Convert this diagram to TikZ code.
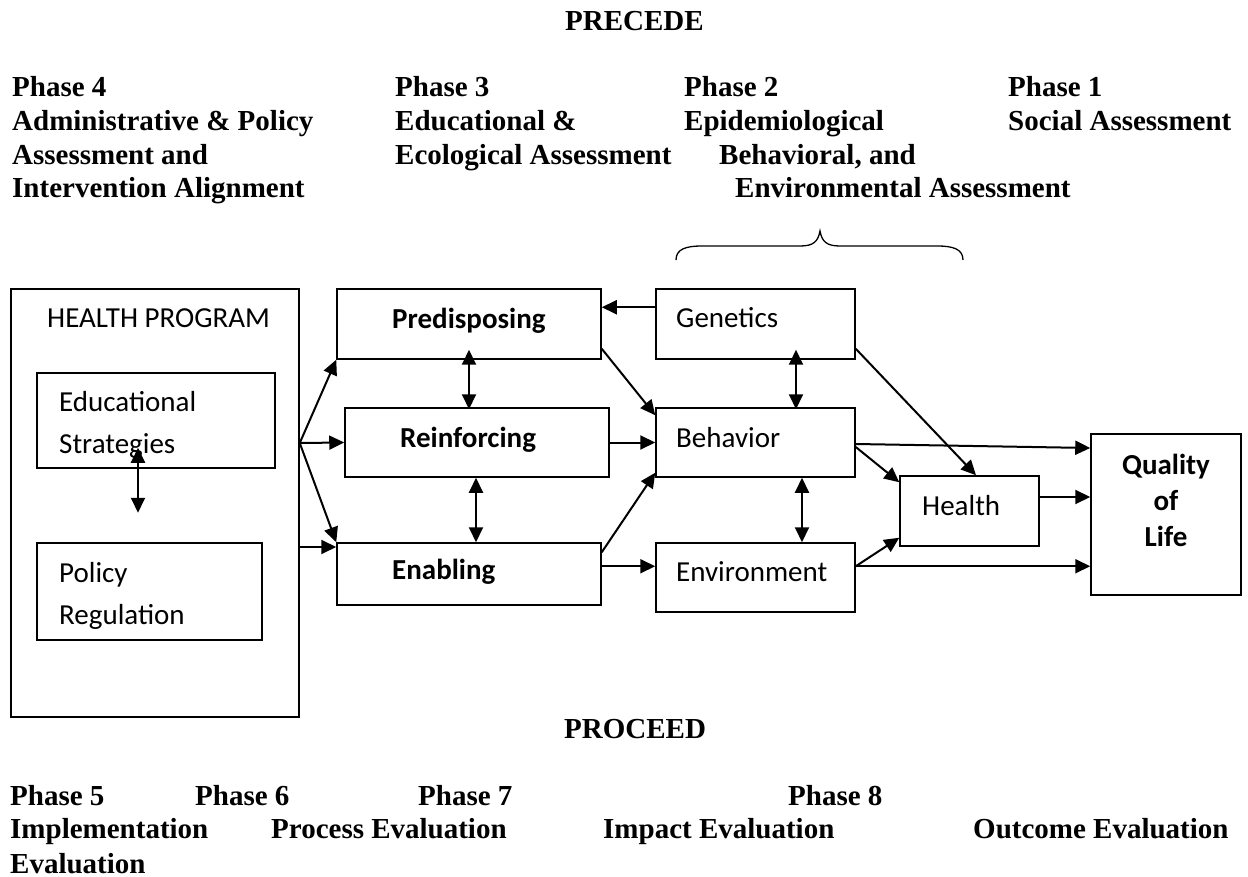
\documentclass[tikz,border=0pt]{standalone}
\usepackage{fontspec}
\setmainfont{Liberation Serif}
\newfontfamily\calibri{Carlito}
\usetikzlibrary{arrows.meta,calc}
\tikzset{
  tnr/.style={font=\fontsize{29}{34}\selectfont\bfseries, inner sep=0pt, anchor=base west},
  cal/.style={font=\calibri\fontsize{29}{42}\selectfont, inner sep=0pt, anchor=base west, align=left},
  calb/.style={font=\calibri\bfseries\fontsize{29}{36}\selectfont, inner sep=0pt, anchor=base west},
  box/.style={draw, line width=1.5pt, inner sep=0pt},
  arr/.style={line width=2pt, -{Triangle[length=15pt,width=14pt]}},
  dbl/.style={line width=2pt, {Triangle[length=15pt,width=14pt]}-{Triangle[length=15pt,width=14pt]}}
}
\begin{document}
\begin{tikzpicture}[x=1pt,y=-1pt]
\useasboundingbox (0,0) rectangle (1248,877);
\fill[white] (0,0) rectangle (1248,877);

% ---------- header ----------
\node[tnr] (precede) at (565,31) {PRECEDE};
\node[tnr] (p4a) at (12,97) {Phase 4};
\node[tnr] (p4b) at (12,131) {Administrative \& Policy};
\node[tnr] (p4c) at (12,165) {Assessment and};
\node[tnr] (p4d) at (12,198) {Intervention Alignment};
\node[tnr] (p3a) at (395,97) {Phase 3};
\node[tnr] (p3b) at (395,131) {Educational \&};
\node[tnr] (p3c) at (395,165) {Ecological Assessment};
\node[tnr] (p2a) at (684,97) {Phase 2};
\node[tnr] (p2b) at (684,131) {Epidemiological};
\node[tnr] (p2c) at (719,165) {Behavioral, and};
\node[tnr] (p2d) at (735,198) {Environmental Assessment};
\node[tnr] (p1a) at (1008,97) {Phase 1};
\node[tnr] (p1b) at (1008,131) {Social Assessment};

% brace
\draw[line width=1.3pt] (676,260) .. controls (676,249) and (686,246) .. (702,246)
  -- (800,246) .. controls (813,246) and (818,242) .. (820,231)
  .. controls (822,242) and (827,246) .. (840,246) -- (937,246)
  .. controls (953,246) and (963,249) .. (963,260);

% ---------- boxes ----------
\node[box, minimum width=288pt, minimum height=428pt] (hp) at (155,503) {};
\node[box, minimum width=238pt, minimum height=95pt] (edu) at (156,420.5) {};
\node[box, minimum width=225pt, minimum height=97pt] (pol) at (149.5,591.5) {};
\node[box, minimum width=264pt, minimum height=70pt] (pred) at (469,324) {};
\node[box, minimum width=264pt, minimum height=69pt] (reinf) at (477,442.5) {};
\node[box, minimum width=264pt, minimum height=62pt] (enab) at (469,574) {};
\node[box, minimum width=199pt, minimum height=70pt] (gen) at (755.5,324) {};
\node[box, minimum width=199pt, minimum height=69pt] (beh) at (755.5,442.5) {};
\node[box, minimum width=199pt, minimum height=69pt] (env) at (755.5,577.5) {};
\node[box, minimum width=139pt, minimum height=70pt] (health) at (969.5,511) {};
\node[box, minimum width=150pt, minimum height=161pt] (qol) at (1166,514.5) {};

% ---------- box texts ----------
\node[cal] (thp) at (47,327) {HEALTH PROGRAM};
\node[cal] (tedu) at (59,453) {Educational\\Strategies};
\node[cal] (tpol) at (59,624) {Policy\\Regulation};
\node[calb] (tpred) at (392,329) {Predisposing};
\node[calb] (treinf) at (400,447) {Reinforcing};
\node[calb] (tenab) at (392,579) {Enabling};
\node[cal] (tgen) at (676,328) {Genetics};
\node[cal] (tbeh) at (676,447) {Behavior};
\node[cal] (tenv) at (676,581) {Environment};
\node[cal] (thealth) at (922,515) {Health};
\node[calb, anchor=base, align=center] (tqol) at (1166,546) {Quality\\of\\Life};

% ---------- connectors ----------
\coordinate (fan) at ([yshift=60pt]hp.east);
\draw[arr] (fan) -- (pred.south west);
\draw[arr] (fan) -- (reinf.west);
\draw[arr] (fan) -- (enab.north west);
\draw[arr] ([yshift=-44pt]hp.east) -- ([yshift=-44pt]hp.east -| enab.west);

\coordinate (edubot) at ([xshift=-18pt,yshift=-44pt]edu.south);
\draw[dbl] (edubot) -- ([xshift=-18pt,yshift=21pt]edu.south);

\draw[dbl] ([yshift=10pt]pred.south) -- ([yshift=-2pt]pred.south |- reinf.north);
\draw[dbl] ([xshift=-1pt]reinf.south) -- ([xshift=-1pt]reinf.south |- enab.north);

\draw[arr] ([yshift=-19pt]gen.north west) -- ([yshift=-19pt]pred.north east);
\draw[arr] ([yshift=11pt]pred.south east) -- ([yshift=-8pt]beh.north west);
\draw[arr] (reinf.east) -- (beh.west);
\draw[arr] ([yshift=-10pt]enab.north east) -- ([yshift=5pt]beh.south west);
\draw[arr] ([yshift=-24pt]enab.north east) -- ([yshift=-24pt]enab.north east -| env.west);

\draw[arr] ([yshift=11pt]gen.south east) -- ([xshift=6.5pt]health.north);
\draw[dbl] ([xshift=40.5pt,yshift=10pt]gen.south) -- ([xshift=40.5pt,yshift=-2pt]beh.north);
\draw[dbl] ([xshift=46.5pt]beh.south) -- ([xshift=46.5pt]env.north);

\draw[arr] ([yshift=-1.5pt]beh.east) -- ([yshift=66.5pt]qol.west);
\draw[arr] ([yshift=-4.5pt]beh.east) -- ([yshift=-7pt]health.north west);
\draw[arr] ([yshift=-24pt]env.north east) -- ([yshift=9pt]health.south west);
\draw[arr] ([yshift=-24pt]env.north east) -- ([yshift=-24pt]env.north east -| qol.west);
\draw[arr] ([yshift=14pt]health.east) -- ([yshift=14pt]health.east -| qol.west);

% ---------- footer ----------
\node[tnr] (proceed) at (564,738) {PROCEED};
\node[tnr] (p5) at (10,805) {Phase 5};
\node[tnr] (p6) at (195,805) {Phase 6};
\node[tnr] (p7) at (418,805) {Phase 7};
\node[tnr] (p8) at (788,805) {Phase 8};
\node[tnr] (impl) at (10,838) {Implementation};
\node[tnr] (proc) at (271,838) {Process Evaluation};
\node[tnr] (impa) at (603,838) {Impact Evaluation};
\node[tnr] (outc) at (973,838) {Outcome Evaluation};
\node[tnr] (eval) at (10,873) {Evaluation};
\end{tikzpicture}
\end{document}
